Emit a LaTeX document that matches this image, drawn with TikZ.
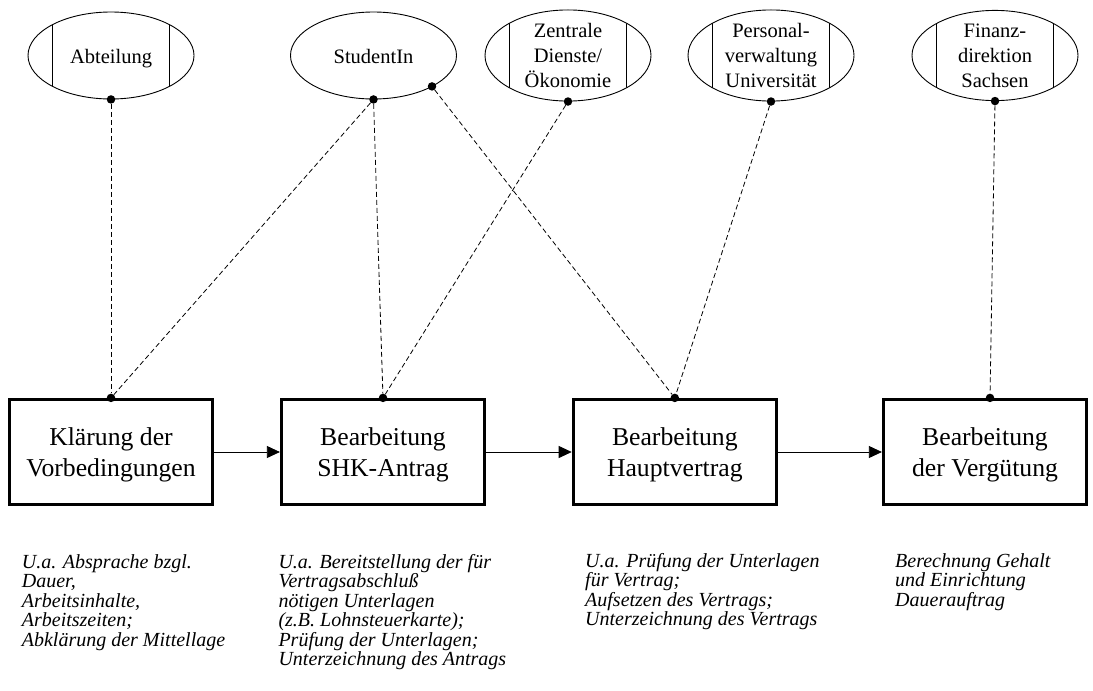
\documentclass[tikz,border=0pt]{standalone}
\usepackage{fontspec}
\setmainfont{Liberation Serif}
\usetikzlibrary{arrows.meta,calc,shapes.geometric}
\begin{document}
\begin{tikzpicture}[x=1pt,y=-1pt,
  actor/.style={ellipse, draw, line width=0.9pt, minimum width=166pt, minimum height=87pt,
    inner sep=0pt, align=center, font=\fontsize{20.5}{25}\selectfont},
  oneline/.style={text height=20pt, text depth=4.5pt},
  banded/.style={path picture={
    \draw[line width=0.9pt] (path picture bounding box.center) ++(-58.5pt,-50pt) -- ++(0pt,100pt);
    \draw[line width=0.9pt] (path picture bounding box.center) ++(58.5pt,-50pt) -- ++(0pt,100pt);}},
  task/.style={rectangle, draw, line width=3.2pt, minimum width=203pt, minimum height=105pt,
    inner sep=0pt, align=center, text height=55pt, text depth=5.6pt, font=\fontsize{25.7}{31}\selectfont},
  note/.style={anchor=north west, inner sep=0pt, align=left, font=\fontsize{20}{19.5}\selectfont\itshape},
  link/.style={draw, line width=0.8pt, dash pattern=on 5pt off 3pt},
  flow/.style={draw, line width=0.8pt, -{Triangle[length=13pt,width=12pt]}},
  joint/.style={circle, fill, inner sep=0pt, minimum size=8.5pt},
]
\useasboundingbox (0,0) rectangle (1093,691);

% participants
\node[actor, banded, oneline] (abt) at (111,55.5) {Abteilung};
\node[actor, oneline] (stu) at (373.5,55.5) {StudentIn};
\node[actor, banded] (zdo) at (568,55.5) {Zentrale\\Dienste/\\Ökonomie};
\node[actor, banded] (pvu) at (771,55.5) {Personal-\\verwaltung\\Universität};
\node[actor, banded] (fds) at (995,55.5) {Finanz-\\direktion\\Sachsen};

% process steps
\node[task] (k1) at (111,452) {Klärung der\\Vorbedingungen};
\node[task] (k2) at (383,452) {Bearbeitung\\SHK-Antrag};
\node[task] (k3) at (674.8,452) {Bearbeitung\\Hauptvertrag};
\node[task] (k4) at (985,452) {Bearbeitung\\der Vergütung};

% flow between steps
\draw[flow] (k1) -- (k2);
\draw[flow] (k2) -- (k3);
\draw[flow] (k3) -- (k4);

% attachment points
\node[joint] (jabt) at (abt.south) {};
\node[joint] (jstu) at (stu.south) {};
\node[joint] (jstu2) at ($(stu.center)+(58.5,30.9)$) {};
\node[joint] (jzdo) at (zdo.south) {};
\node[joint] (jpvu) at (pvu.south) {};
\node[joint] (jfds) at (fds.south) {};
\node[joint] (jk1) at (k1.north) {};
\node[joint] (jk2) at (k2.north) {};
\node[joint] (jk3) at (k3.north) {};
\node[joint] (jk4) at ($(k4.north)+(5,0)$) {};

% participation links
\draw[link] (jabt) -- (jk1);
\draw[link] (jstu) -- (jk1);
\draw[link] (jstu) -- (jk2);
\draw[link] (jstu2) -- (jk3);
\draw[link] (jzdo) -- (jk2);
\draw[link] (jpvu) -- (jk3);
\draw[link] (jfds) -- (jk4);

% descriptions
\node[note] (n1) at (21.7,554) {U.a. Absprache bzgl.\\Dauer,\\Arbeitsinhalte,\\Arbeitszeiten;\\Abklärung der Mittellage};
\node[note] (n2) at (278.3,554) {U.a. Bereitstellung der für\\Vertragsabschluß\\nötigen Unterlagen\\(z.B. Lohnsteuerkarte);\\Prüfung der Unterlagen;\\Unterzeichnung des Antrags};
\node[note] (n3) at (585,553) {U.a. Prüfung der Unterlagen\\für Vertrag;\\Aufsetzen des Vertrags;\\Unterzeichnung des Vertrags};
\node[note] (n4) at (895,553) {Berechnung Gehalt\\und Einrichtung\\Dauerauftrag};
\end{tikzpicture}
\end{document}
